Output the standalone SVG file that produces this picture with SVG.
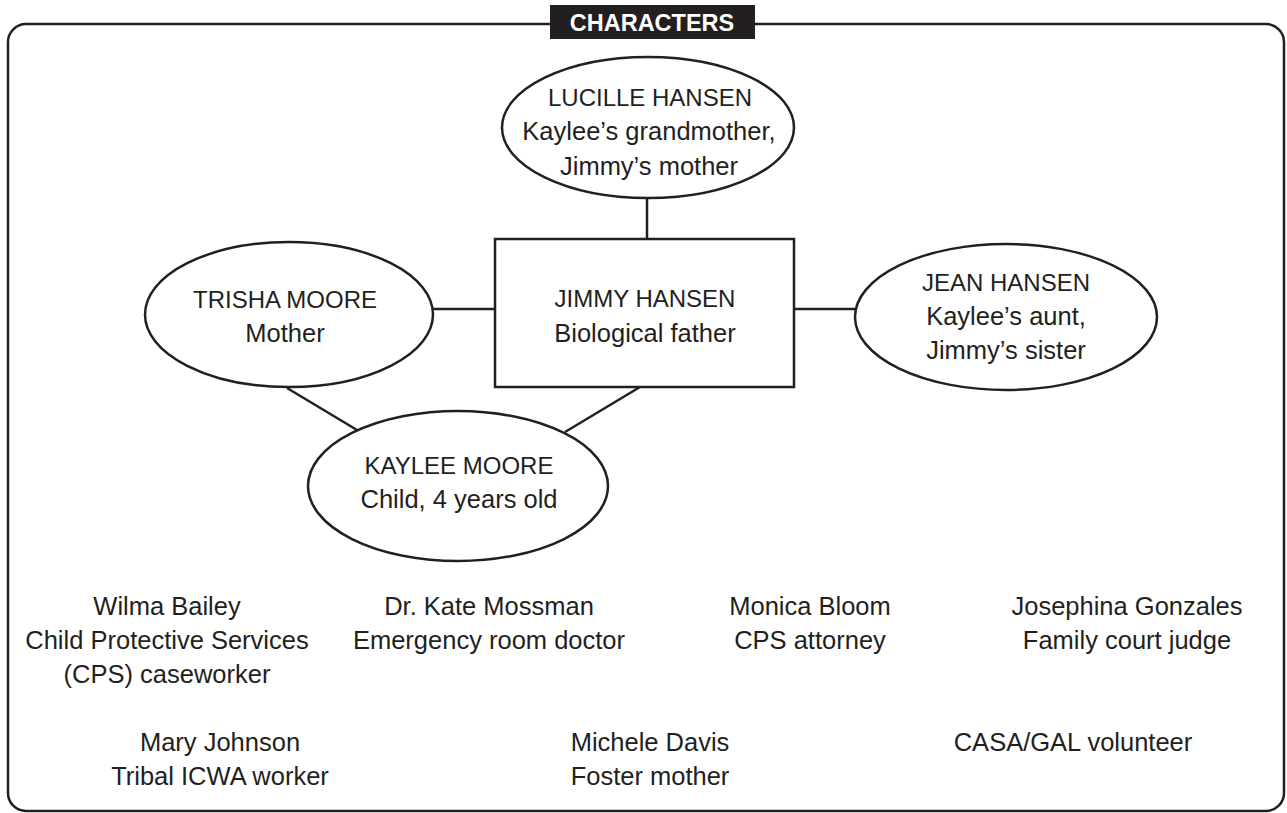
<svg xmlns="http://www.w3.org/2000/svg" width="1287" height="813" viewBox="0 0 1287 813">
<style>
.shape{fill:#fff;stroke:#231f20;stroke-width:2.5}
.edge{stroke:#231f20;stroke-width:2.5;fill:none}
text{font-family:"Liberation Sans",Arial,sans-serif;fill:#231f20;text-anchor:middle}
.c{font-size:24px}
.l{font-size:25.5px}
.title{font-size:23.5px;font-weight:bold;fill:#fff}
</style>
<rect x="8" y="24" width="1276" height="787" rx="18" fill="#fff" stroke="#231f20" stroke-width="2.5"/>
<g id="title">
<rect x="550" y="5" width="205" height="34" fill="#231f20"/>
<text class="title" x="652" y="31">CHARACTERS</text>
</g>
<g id="connectors">
<line class="edge" x1="647" y1="198" x2="647" y2="239"/>
<line class="edge" x1="433" y1="309" x2="495" y2="309"/>
<line class="edge" x1="794" y1="309" x2="855" y2="309"/>
<line class="edge" x1="287" y1="388" x2="357" y2="430"/>
<line class="edge" x1="640" y1="387" x2="565" y2="432"/>
</g>
<g id="lucille">
<ellipse class="shape" cx="648" cy="127.5" rx="146" ry="70.5"/>
<text class="c" x="650" y="106">LUCILLE HANSEN</text>
<text class="l" x="649" y="140">Kaylee’s grandmother,</text>
<text class="l" x="649" y="175">Jimmy’s mother</text>
</g>
<g id="jimmy">
<rect class="shape" x="495" y="239" width="299" height="148"/>
<text class="c" x="645" y="307">JIMMY HANSEN</text>
<text class="l" x="645" y="342">Biological father</text>
</g>
<g id="trisha">
<ellipse class="shape" cx="289" cy="314.5" rx="144" ry="72.5"/>
<text class="c" x="285" y="308">TRISHA MOORE</text>
<text class="l" x="285" y="342">Mother</text>
</g>
<g id="jean">
<ellipse class="shape" cx="1006" cy="317" rx="151" ry="73"/>
<text class="c" x="1006" y="291">JEAN HANSEN</text>
<text class="l" x="1006" y="325">Kaylee’s aunt,</text>
<text class="l" x="1006" y="359">Jimmy’s sister</text>
</g>
<g id="kaylee">
<ellipse class="shape" cx="458" cy="486" rx="150" ry="75"/>
<text class="c" x="459" y="474">KAYLEE MOORE</text>
<text class="l" x="459" y="508">Child, 4 years old</text>
</g>
<g id="wilma">
<text class="l" x="167" y="615">Wilma Bailey</text>
<text class="l" x="167" y="649">Child Protective Services</text>
<text class="l" x="167" y="683">(CPS) caseworker</text>
</g>
<g id="kate">
<text class="l" x="489" y="615">Dr. Kate Mossman</text>
<text class="l" x="489" y="649">Emergency room doctor</text>
</g>
<g id="monica">
<text class="l" x="810" y="615">Monica Bloom</text>
<text class="l" x="810" y="649">CPS attorney</text>
</g>
<g id="josephina">
<text class="l" x="1127" y="615">Josephina Gonzales</text>
<text class="l" x="1127" y="649">Family court judge</text>
</g>
<g id="mary">
<text class="l" x="220" y="751">Mary Johnson</text>
<text class="l" x="220" y="785">Tribal ICWA worker</text>
</g>
<g id="michele">
<text class="l" x="650" y="751">Michele Davis</text>
<text class="l" x="650" y="785">Foster mother</text>
</g>
<g id="casa">
<text class="l" x="1073" y="751">CASA/GAL volunteer</text>
</g>
</svg>
